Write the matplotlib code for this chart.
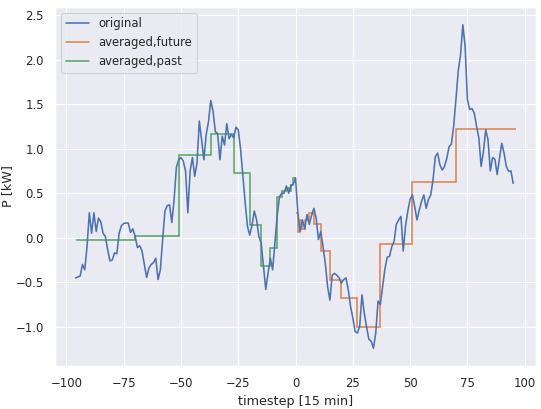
import numpy as np
import matplotlib
matplotlib.use("Agg")
import matplotlib.pyplot as plt
import seaborn as sns

sns.set_theme(font_scale=0.9)

# original load profile, one value per 15 min step, t = -96 .. 95
power_past = [
    -0.45, -0.44, -0.43, -0.30, -0.36, -0.10, 0.28, 0.05,
    0.28, 0.07, 0.22, 0.18, 0.05, 0.015, -0.135, -0.26,
    -0.25, -0.17, -0.18, 0.05, 0.135, 0.16, 0.165, 0.165,
    0.06, 0.10, 0.015, -0.11, -0.09, -0.15, -0.30, -0.445,
    -0.34, -0.30, -0.28, -0.23, -0.47, -0.36, -0.02, 0.30,
    0.36, 0.37, 0.17, 0.43, 0.79, 0.875, 0.90, 0.86,
    0.75, 0.28, 0.75, 0.90, 0.69, 0.84, 1.31, 1.10,
    0.875, 1.16, 1.30, 1.54, 1.42, 1.19, 1.17, 0.875,
    1.14, 1.04, 1.28, 1.11, 1.16, 1.12, 1.24, 1.21,
    1.00, 0.70, 0.40, 0.13, 0.03, 0.14, 0.30, 0.20,
    0.015, -0.06, -0.32, -0.58, -0.40, -0.23, -0.36, -0.05,
    0.25, 0.46, 0.50, 0.50, 0.58, 0.50, 0.59, 0.60,
    0.67,
]
power_future = [
    0.28, 0.07, 0.20, 0.10, 0.26, 0.15, 0.25, 0.33,
    0.22, -0.02, 0.07, -0.10, -0.29, -0.55, -0.70, -0.42,
    -0.40, -0.42, -0.45, -0.51, -0.47, -0.45, -0.58, -0.77,
    -0.90, -1.05, -1.07, -0.99, -0.64, -0.85, -1.00, -1.14,
    -1.16, -1.24, -1.07, -0.71, -0.75, -0.55, -0.35, -0.22,
    -0.21, -0.10, -0.04, 0.15, 0.20, 0.24, -0.15, 0.13,
    0.30, 0.43, 0.48, 0.35, 0.20, 0.31, 0.41, 0.48,
    0.33, 0.43, 0.48, 0.65, 0.91, 0.95, 0.82, 0.76,
    0.80, 0.89, 1.02, 1.05, 1.25, 1.55, 1.87, 2.05,
    2.39, 2.15, 1.55, 1.44, 1.45, 1.40, 1.25, 1.12,
    0.80, 0.97, 1.21, 1.10, 0.75, 0.90, 0.88, 0.71,
    0.89, 1.06, 0.95, 0.80, 0.745, 0.75, 0.61,
]
power = power_past + power_future
timesteps = np.arange(-96, -96 + len(power))

# averaging windows (edges) and their mean values
past_edges = [-96, -70, -51, -37, -27, -20, -15, -11, -8, -6, -4, -3, -2, -1, 0]
past_levels = [-0.03, 0.02, 0.93, 1.16, 0.73, 0.146, -0.32, -0.11, 0.46, 0.52, 0.56, 0.52, 0.59, 0.67]

future_edges = [0, 1, 2, 3, 4, 6, 8, 11, 15, 20, 27, 37, 51, 70, 96]
future_levels = [0.28, 0.07, 0.20, 0.10, 0.20, 0.28, 0.155, -0.15, -0.47, -0.68, -1.00, -0.07, 0.63, 1.22]

fig = plt.figure(figsize=(541 / 85, 409 / 85), dpi=85)
ax = fig.add_subplot(111)
fig.subplots_adjust(left=0.102, right=0.991, top=0.983, bottom=0.105)

lw = 1.35
ax.plot(timesteps, power, linewidth=lw, label="original")
ax.stairs(future_levels, future_edges, baseline=None, color="C1", linewidth=lw,
          label="averaged,future")
ax.stairs(past_levels, past_edges, baseline=None, color="C2", linewidth=lw,
          label="averaged,past")

ax.set_xlim(-104.9, 105)
ax.set_ylim(-1.44, 2.59)
ax.set_xlabel("timestep [15 min]")
ax.set_ylabel("P [kW]", labelpad=1.5)
ax.legend(loc="upper left")

fig.savefig("out.png", dpi=85)
